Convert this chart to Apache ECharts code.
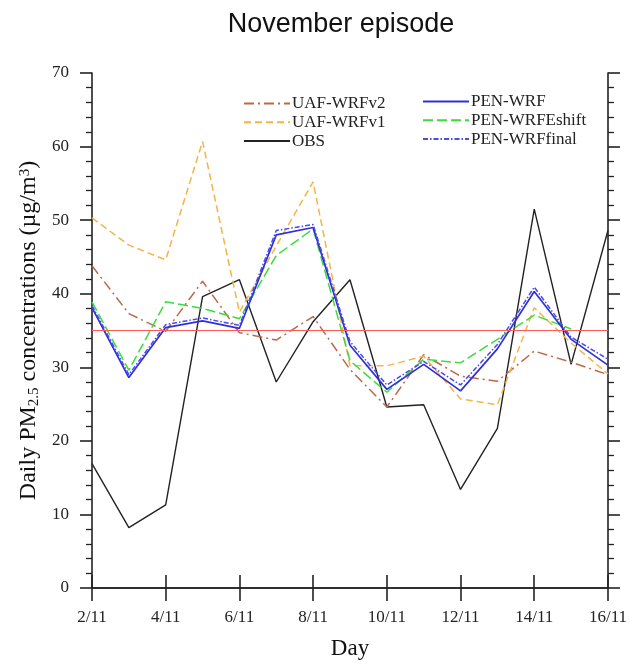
<!DOCTYPE html>
<html>
<head>
<meta charset="utf-8">
<script src="https://cdn.jsdelivr.net/npm/echarts@6/dist/echarts.min.js"></script>
<style>
  html, body { margin: 0; padding: 0; background: #fff; }
  #chart { width: 630px; height: 665px; }
</style>
</head>
<body>
<div id="chart"></div>
<script>
// Daily PM2.5 concentrations, November episode (µg/m3)
const days = ['2/11', '3/11', '4/11', '5/11', '6/11', '7/11', '8/11', '9/11',
              '10/11', '11/11', '12/11', '13/11', '14/11', '15/11', '16/11'];

const uafWrfV2     = [43.8, 37.3, 34.9, 41.7, 34.7, 33.7, 36.9, 29.7, 24.6, 31.7, 28.8, 28.1, 32.2, 30.7, 29.0];
const uafWrfV1     = [50.3, 46.6, 44.6, 60.7, 37.5, 46.5, 55.2, 30.2, 30.2, 31.5, 25.7, 24.9, 38.1, 33.3, 29.1];
const obs          = [16.9,  8.2, 11.3, 39.6, 41.9, 28.0, 36.2, 41.9, 24.6, 24.9, 13.4, 21.7, 51.5, 30.4, 48.6];
const penWrf       = [38.1, 28.6, 35.4, 36.3, 35.3, 48.0, 49.0, 33.0, 27.0, 30.4, 26.8, 32.5, 40.3, 33.8, 30.3];
const penWrfEshift = [38.9, 29.6, 38.9, 38.0, 36.6, 45.2, 48.8, 30.9, 26.6, 31.1, 30.6, 33.8, 37.1, 35.2, null];
const penWrfFinal  = [38.4, 29.0, 35.8, 36.7, 35.7, 48.6, 49.4, 33.5, 27.6, 30.8, 27.6, 33.1, 40.9, 34.1, 31.1];

// daily PM2.5 standard
const threshold = 35;

const yTicks = { min: 0, max: 70, interval: 10 };

const serif = '"Liberation Serif", "DejaVu Serif", serif';
const axisColor = '#222';

const chart = echarts.init(document.getElementById('chart'), null, { renderer: 'canvas' });

function lineSeries(name, data, color, dash, width) {
  return {
    name: name,
    type: 'line',
    data: data,
    symbol: 'none',
    connectNulls: false,
    animation: false,
    lineStyle: { color: color, width: width || 1.5, type: dash },
    itemStyle: { color: color }
  };
}

const baseXAxis = {
  type: 'category',
  data: days,
  boundaryGap: false,
  axisLine: { show: true, lineStyle: { color: axisColor, width: 1.6 } },
  axisTick: { show: true, inside: false, interval: 1, length: 13, lineStyle: { color: axisColor, width: 1.6 } },
  splitLine: { show: false }
};

const baseYAxis = {
  type: 'value',
  min: yTicks.min,
  max: yTicks.max,
  interval: yTicks.interval,
  axisLine: { show: true, lineStyle: { color: axisColor, width: 1.6 } },
  axisTick: { show: true, inside: false, length: 12, lineStyle: { color: axisColor, width: 1.6 } },
  minorTick: { show: true, splitNumber: 5, length: 6, lineStyle: { color: axisColor, width: 1.3 } },
  splitLine: { show: false },
  minorSplitLine: { show: false }
};

const legendText = { fontFamily: serif, fontSize: 17, lineHeight: 14, color: '#222', padding: [0, 0, 0, -3] };

function legendBlock(names, left, top) {
  return {
    data: names,
    orient: 'vertical',
    left: left,
    top: top,
    padding: 0,
    itemWidth: 46,
    itemHeight: 14,
    itemGap: 1.8,
    itemStyle: { opacity: 0, borderWidth: 0 },
    textStyle: legendText
  };
}

const option = {
  backgroundColor: '#fff',
  animation: false,
  title: {
    text: 'November episode',
    left: 336,
    top: 6,
    textAlign: 'center',
    textStyle: {
      fontFamily: '"Liberation Sans", Arial, sans-serif',
      fontSize: 27,
      fontWeight: 'normal',
      color: '#111'
    }
  },
  grid: { left: 92, right: 21, top: 73, bottom: 73, containLabel: false },
  legend: [
    legendBlock(['UAF-WRFv2', 'UAF-WRFv1', 'OBS'], 243, 95),
    legendBlock(['PEN-WRF', 'PEN-WRFEshift', 'PEN-WRFfinal'], 422, 93)
  ],
  xAxis: [
    Object.assign({}, baseXAxis, {
      position: 'bottom',
      name: 'Day',
      nameLocation: 'middle',
      nameGap: 49,
      nameTextStyle: { fontFamily: serif, fontSize: 23, color: '#111' },
      axisLabel: { interval: 1, margin: 21, fontFamily: serif, fontSize: 17, color: '#222' }
    }),
    Object.assign({}, baseXAxis, {
      position: 'top',
      axisLabel: { show: false }
    })
  ],
  yAxis: [
    Object.assign({}, baseYAxis, {
      position: 'left',
      name: 'Daily PM{sub|2.5} concentrations (µg/m{sup|3})',
      nameLocation: 'middle',
      nameRotate: 90,
      nameGap: 50,
      nameTextStyle: {
        fontFamily: serif,
        fontSize: 24,
        color: '#111',
        rich: {
          sub: { fontFamily: serif, fontSize: 15, color: '#111', verticalAlign: 'bottom', padding: [9, 0, 0, 0] },
          sup: { fontFamily: serif, fontSize: 15, color: '#111', verticalAlign: 'top', padding: [0, 0, 9, 0] }
        }
      },
      axisLabel: { margin: 23, fontFamily: serif, fontSize: 17, color: '#222' }
    }),
    Object.assign({}, baseYAxis, {
      position: 'right',
      axisLabel: { show: false }
    })
  ],
  series: [
    Object.assign(lineSeries('OBS', obs, '#222222', 'solid', 1.4), {
      markLine: {
        silent: true,
        symbol: 'none',
        animation: false,
        label: { show: false },
        lineStyle: { color: '#ff5a5a', width: 1.2, type: 'solid' },
        data: [{ yAxis: threshold }]
      }
    }),
    lineSeries('UAF-WRFv2', uafWrfV2, '#b86a4a', [10, 4, 2, 4], 1.5),
    lineSeries('UAF-WRFv1', uafWrfV1, '#f5b446', [7, 4], 1.5),
    lineSeries('PEN-WRFEshift', penWrfEshift, '#3ddc3d', [10, 4], 1.5),
    lineSeries('PEN-WRF', penWrf, '#3030d8', 'solid', 1.7),
    lineSeries('PEN-WRFfinal', penWrfFinal, '#4a4aee', [5, 2, 1.5, 2], 1.5)
  ]
};

chart.setOption(option);
</script>
</body>
</html>
